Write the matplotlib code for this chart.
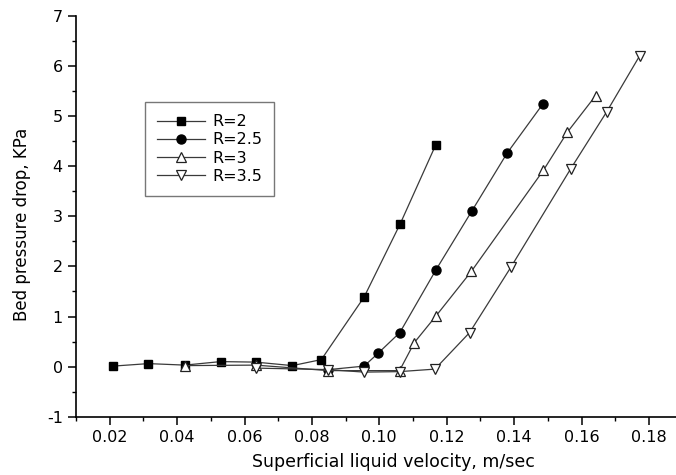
import matplotlib
matplotlib.use("Agg")
import matplotlib.pyplot as plt
from matplotlib.ticker import MultipleLocator, FormatStrFormatter

plt.rcParams["axes.unicode_minus"] = False

# velocity (m/sec) and bed pressure drop (KPa)
x_r2 = [0.021, 0.0315, 0.0423, 0.0529, 0.0633, 0.0742, 0.0828, 0.0955, 0.1062, 0.1167]
y_r2 = [0.01, 0.06, 0.03, 0.10, 0.09, 0.02, 0.14, 1.39, 2.85, 4.42]

x_r25 = [0.0849, 0.0955, 0.0997, 0.1061, 0.1168, 0.1274, 0.1379, 0.1486]
y_r25 = [-0.06, 0.01, 0.27, 0.68, 1.93, 3.10, 4.26, 5.25]

x_r3 = [0.0423, 0.0633, 0.0849, 0.106, 0.1104, 0.1168, 0.1273, 0.1487, 0.1558, 0.1642]
y_r3 = [0.02, 0.03, -0.08, -0.08, 0.48, 1.01, 1.90, 3.92, 4.68, 5.41]

x_r35 = [0.0633, 0.0849, 0.0955, 0.106, 0.1165, 0.1268, 0.139, 0.1568, 0.1675, 0.1773]
y_r35 = [-0.03, -0.06, -0.11, -0.10, -0.05, 0.68, 1.98, 3.95, 5.09, 6.21]

labels = ["R=2", "R=2.5", "R=3", "R=3.5"]

fig = plt.figure(figsize=(6.76, 4.75), dpi=100)
# axes runs a little past the right edge like the cropped original
ax = fig.add_axes([76 / 676, 58.3 / 475, 606.6 / 676, 400.7 / 475])

lc = "#3a3a3a"
ax.plot(x_r2, y_r2, color=lc, lw=0.9, marker="s", ms=6, mfc="black", mec="black", label=labels[0])
ax.plot(x_r25, y_r25, color=lc, lw=0.9, marker="o", ms=6.5, mfc="black", mec="black", label=labels[1])
ax.plot(x_r3, y_r3, color=lc, lw=0.9, marker="^", ms=7.5, mfc="white", mec="#222222", mew=0.9, label=labels[2])
ax.plot(x_r35, y_r35, color=lc, lw=0.9, marker="v", ms=7.5, mfc="white", mec="#222222", mew=0.9, label=labels[3])

ax.set_xlim(0.01, 0.19)
ax.set_ylim(-1, 7)
ax.xaxis.set_major_locator(MultipleLocator(0.02))
ax.xaxis.set_minor_locator(MultipleLocator(0.01))
ax.xaxis.set_major_formatter(FormatStrFormatter("%.2f"))
ax.yaxis.set_major_locator(MultipleLocator(1))
ax.yaxis.set_minor_locator(MultipleLocator(0.5))

for s in ["top", "right"]:
    ax.spines[s].set_visible(False)
for s in ["left", "bottom"]:
    ax.spines[s].set_linewidth(1.2)

ax.tick_params(which="major", direction="out", length=6, width=1.1, labelsize=11.5, pad=3.5)
ax.tick_params(which="minor", direction="out", length=3, width=1.0)

ax.set_xlabel("Superficial liquid velocity, m/sec", fontsize=12.5)
ax.set_ylabel("Bed pressure drop, KPa", fontsize=12)
ax.xaxis.set_label_coords((393 - 76) / 606.6, -(462 - 416.7) / 400.7)
ax.xaxis.label.set_va("center")
ax.yaxis.set_label_coords(-(76 - 22) / 606.6, (416.7 - 224) / 400.7)
ax.yaxis.label.set_va("center")

leg = ax.legend(loc="upper left", bbox_to_anchor=((145 - 76) / 606.6, (416.7 - 102.3) / 400.7),
                borderaxespad=0, fontsize=11.5, frameon=True, fancybox=False,
                handlelength=3.0, handletextpad=0.45, borderpad=0.75, labelspacing=0.2)
leg.get_frame().set_edgecolor("#555555")
leg.get_frame().set_linewidth(1.0)

fig.savefig("out.png", dpi=100)
